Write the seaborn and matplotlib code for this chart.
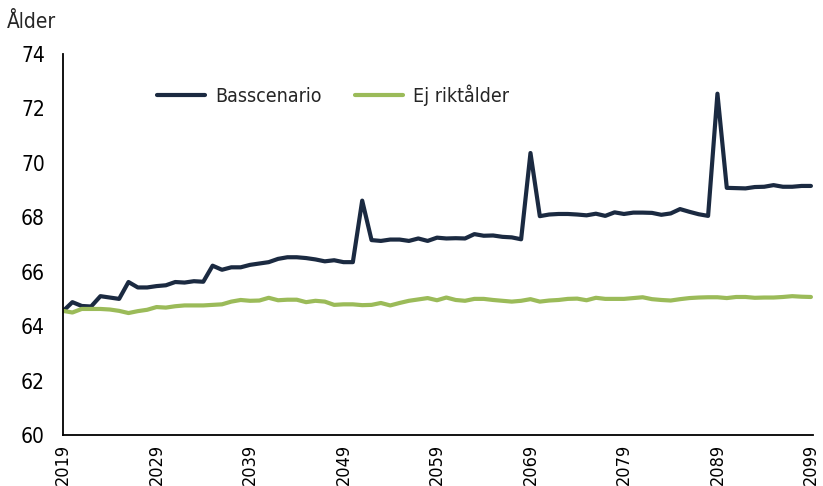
import numpy as np
import pandas as pd
import matplotlib
matplotlib.use('Agg')
import matplotlib.pyplot as plt
import seaborn as sns

# Data
years = list(range(2019, 2100))

basscenario = [
    64.55, 64.88, 64.74, 64.72, 65.10, 65.05, 65.00, 65.62, 65.42, 65.42, 65.47, 65.50, 65.62, 65.60, 65.65, 65.63,
    66.22, 66.07, 66.16, 66.16, 66.25, 66.30, 66.35, 66.47, 66.53, 66.53, 66.50, 66.45, 66.38, 66.42, 66.35,
    66.35, 68.61, 67.16, 67.13, 67.18, 67.18, 67.13, 67.22, 67.13, 67.25, 67.22, 67.23, 67.22, 67.38, 67.32,
    67.33, 67.28, 67.26, 67.19, 70.36, 68.04, 68.10, 68.12, 68.12, 68.10, 68.07, 68.13, 68.05, 68.18, 68.12,
    68.17, 68.17, 68.16, 68.09, 68.14, 68.30, 68.20, 68.11, 68.05, 72.54, 69.08, 69.07, 69.06, 69.11, 69.12,
    69.18, 69.12, 69.12, 69.15, 69.15,
]

ej_riktalder = [
    64.56, 64.50, 64.63, 64.63, 64.63, 64.61, 64.56, 64.48, 64.55, 64.60, 64.70, 64.68, 64.73, 64.76, 64.76, 64.76,
    64.78, 64.80, 64.90, 64.96, 64.93, 64.94, 65.04, 64.95, 64.97, 64.97, 64.88, 64.93, 64.90, 64.78, 64.80,
    64.80, 64.77, 64.78, 64.85, 64.76, 64.85, 64.93, 64.98, 65.03, 64.95, 65.05, 64.96, 64.93, 65.00, 65.00,
    64.96, 64.93, 64.90, 64.93, 64.99, 64.90, 64.94, 64.96, 65.00, 65.01, 64.95, 65.04, 65.00, 65.00, 65.00,
    65.03, 65.06, 64.99, 64.96, 64.94, 64.99, 65.03, 65.05, 65.06, 65.06, 65.03, 65.07, 65.07, 65.04, 65.05,
    65.05, 65.07, 65.10, 65.08, 65.07,
]

series_names = ['Basscenario', 'Ej riktålder']
colors = ['#1b2a41', '#9bbb59']
y_ticks = [60, 62, 64, 66, 68, 70, 72, 74]
label_years = list(range(2019, 2100, 10))

df = pd.DataFrame({
    'År': years * 2,
    'Ålder': basscenario + ej_riktalder,
    'Scenario': [series_names[0]] * len(years) + [series_names[1]] * len(years),
})

sns.set_style('white')
plt.rcParams['font.family'] = ['DejaVu Sans']
plt.rcParams['font.stretch'] = 'condensed'

fig = plt.figure(figsize=(8.23, 4.86), dpi=100)
ax = fig.add_axes([0.0766, 0.105, 0.911, 0.784])

sns.lineplot(data=df, x='År', y='Ålder', hue='Scenario', palette=colors,
             linewidth=3, ax=ax)

ax.set_xlim(2019, 2099.2)
ax.set_ylim(60, 74)
ax.set_yticks(y_ticks)
ax.set_xticks(years)
ax.set_xticklabels([str(y) if y in label_years else '' for y in years], rotation=90)
ax.set_xlabel('')
ax.set_ylabel('')

ax.tick_params(axis='x', direction='inout', length=11, width=1, colors='#333333',
               labelsize=13, labelcolor='black', pad=1)
ax.tick_params(axis='y', direction='out', length=6, width=1, colors='#333333',
               labelsize=15, labelcolor='black', pad=7)

for side in ['top', 'right']:
    ax.spines[side].set_visible(False)
for side in ['left', 'bottom']:
    ax.spines[side].set_color('black')
    ax.spines[side].set_linewidth(1.3)

fig.text(0.008, 0.955, 'Ålder', fontsize=15, ha='left', va='center')

ax.legend(loc='center', bbox_to_anchor=(0.36, 0.892), ncol=2, frameon=False,
          fontsize=14, handlelength=2.5, columnspacing=1.7, handletextpad=0.5)

fig.savefig('out.png', dpi=100)
